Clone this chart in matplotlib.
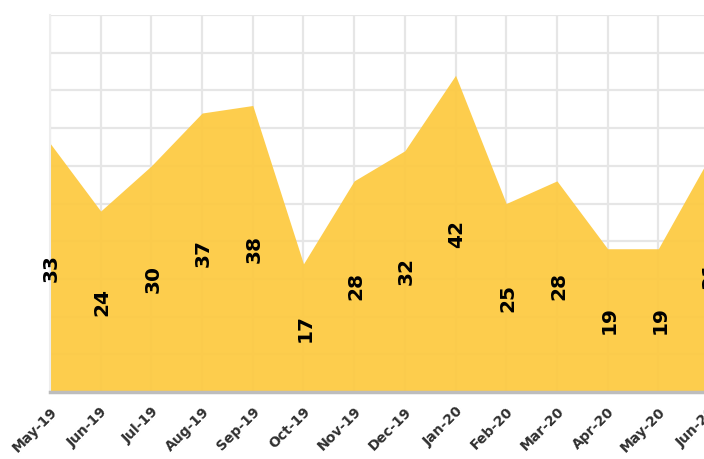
import matplotlib
matplotlib.use("Agg")
import matplotlib.pyplot as plt
import numpy as np

months = ["May-19", "Jun-19", "Jul-19", "Aug-19", "Sep-19", "Oct-19", "Nov-19",
          "Dec-19", "Jan-20", "Feb-20", "Mar-20", "Apr-20", "May-20", "Jun-20"]
values = [33, 24, 30, 37, 38, 17, 28, 32, 42, 25, 28, 19, 19, 31]

W, H = 704, 459
fig = plt.figure(figsize=(W / 100, H / 100), dpi=100)
fig.patch.set_facecolor("white")

left_px, right_px, top_px, base_px = 50, 709, 15, 392
ax = fig.add_axes([left_px / W, (H - base_px) / H,
                   (right_px - left_px) / W, (base_px - top_px) / H])

x = np.arange(len(months))
ax.set_xlim(0, len(months) - 1)
ax.set_ylim(0, 50)

ax.set_yticks(np.arange(0, 51, 5))
ax.set_xticks(x)
ax.grid(True, color="#e6e6e6", linewidth=1.6, zorder=0)
ax.set_axisbelow(True)

ax.fill_between(x, values, 0, color="#FDCA42", alpha=0.94, linewidth=0, zorder=2)

for xi, v in zip(x, values):
    ax.text(xi + 0.03, v / 2, str(v), rotation=90, ha="center", va="center",
            fontsize=14.5, fontweight="bold", color="black", zorder=4,
            clip_on=False)

ax.set_yticklabels([])
ax.tick_params(axis="y", length=0)
ax.tick_params(axis="x", length=0, pad=9)
ax.set_xticklabels(months, rotation=45, ha="right", va="top",
                   rotation_mode="anchor", fontsize=10, fontweight="heavy",
                   color="#303030")

for s in ["top", "right"]:
    ax.spines[s].set_visible(False)
ax.spines["left"].set_color("#eeeeee")
ax.spines["left"].set_linewidth(1.5)
ax.spines["bottom"].set_color("#bdbdbd")
ax.spines["bottom"].set_linewidth(2.5)
ax.spines["bottom"].set_zorder(5)

fig.savefig("out.png", dpi=100, facecolor="white")
